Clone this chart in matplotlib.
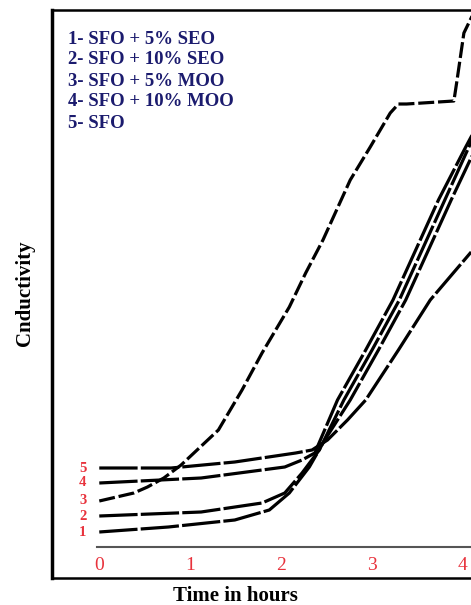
import numpy as np
import matplotlib
matplotlib.use("Agg")
import matplotlib.pyplot as plt

# values (time in hours, conductivity in arbitrary units)
t1 = [0, 0.76, 1.49, 1.87, 2.09, 2.31, 2.48, 2.76, 3.07, 3.37, 3.87, 4.13]
c1 = [15, 20, 27, 37, 54, 80, 107, 147, 197, 247, 347, 397]

t2 = [0, 1.12, 1.79, 2.04, 2.23, 2.42, 2.69, 3.0, 3.3, 3.8, 4.1]
c2 = [31, 35, 44, 54, 74, 97, 147, 197, 247, 347, 407]

t3 = [0, 0.38, 0.53, 0.71, 0.9, 1.31, 1.57, 1.79, 2.09, 2.27, 2.46, 2.76, 2.98,
      3.2, 3.29, 3.38, 3.9, 3.93, 4.01, 4.09, 4.13]
c3 = [46, 54, 60, 69, 82, 117, 157, 194, 240, 274, 307, 367, 400,
      434, 443, 443, 446, 464, 514, 529, 537]

t4 = [0, 1.12, 2.04, 2.23, 2.37, 2.62, 2.93, 3.23, 3.73, 4.03, 4.13]
c4 = [64, 69, 80, 87, 94, 147, 197, 247, 347, 400, 417]

t5 = [0, 0.79, 1.49, 2.16, 2.34, 2.51, 2.73, 2.93, 3.29, 3.64, 4.09]
c5 = [79, 79, 85, 94, 97, 107, 127, 147, 197, 247, 295]

legend_lines = ["1- SFO + 5% SEO", "2- SFO + 10% SEO", "3- SFO + 5% MOO",
                "4- SFO + 10% MOO", "5- SFO"]
hour_ticks = [0, 1, 2, 3, 4]

navy = "#1b1b6e"
red = "#e8323c"
serif = ["Liberation Serif", "DejaVu Serif"]

fig = plt.figure(figsize=(4.71, 6.05), dpi=100)
ax = fig.add_axes([52 / 471, 27 / 605, 1 - 52 / 471 + 0.01, 568 / 605])
ax.set_xlim(-0.52, 4.14)
ax.set_ylim(-31, 537)

series = [(t1, c1), (t2, c2), (t3, c3), (t4, c4), (t5, c5)]
for i, (t, c) in enumerate(series):
    dash = (5, 1.2) if i == 2 else (12, 1.0)
    ax.plot(t, c, color="black", lw=2.3, linestyle=(0, dash), solid_capstyle="butt")
    ax.text(-0.14, c[0], str(i + 1), color=red, fontsize=10.5, fontweight="bold",
            family=serif, ha="right", va="center")

# inner time axis
ax.plot([-0.02, 4.1], [0, 0], color="#555555", lw=1.5)
for h in hour_ticks:
    ax.text(h, -18, str(h), color=red, fontsize=14, family=serif,
            ha="center", va="center")

for k, line in enumerate(legend_lines):
    ax.text(-0.34, 508 - k * 21, line, color=navy, fontsize=13.5,
            fontweight="bold", family=serif, ha="left", va="center")

ax.set_xticks([])
ax.set_yticks([])
ax.spines["right"].set_visible(False)
ax.spines["left"].set_linewidth(2.5)
ax.spines["top"].set_linewidth(1.8)
ax.spines["bottom"].set_linewidth(1.8)

fig.text(235 / 471, 1 - 596 / 605, "Time in hours", fontsize=15, fontweight="bold",
         family=serif, ha="center", va="center")
fig.text(25 / 471, 1 - 293 / 605, "Cnductivity", fontsize=15, fontweight="bold",
         family=serif, ha="center", va="center", rotation=90)

fig.savefig("out.png", dpi=100)
